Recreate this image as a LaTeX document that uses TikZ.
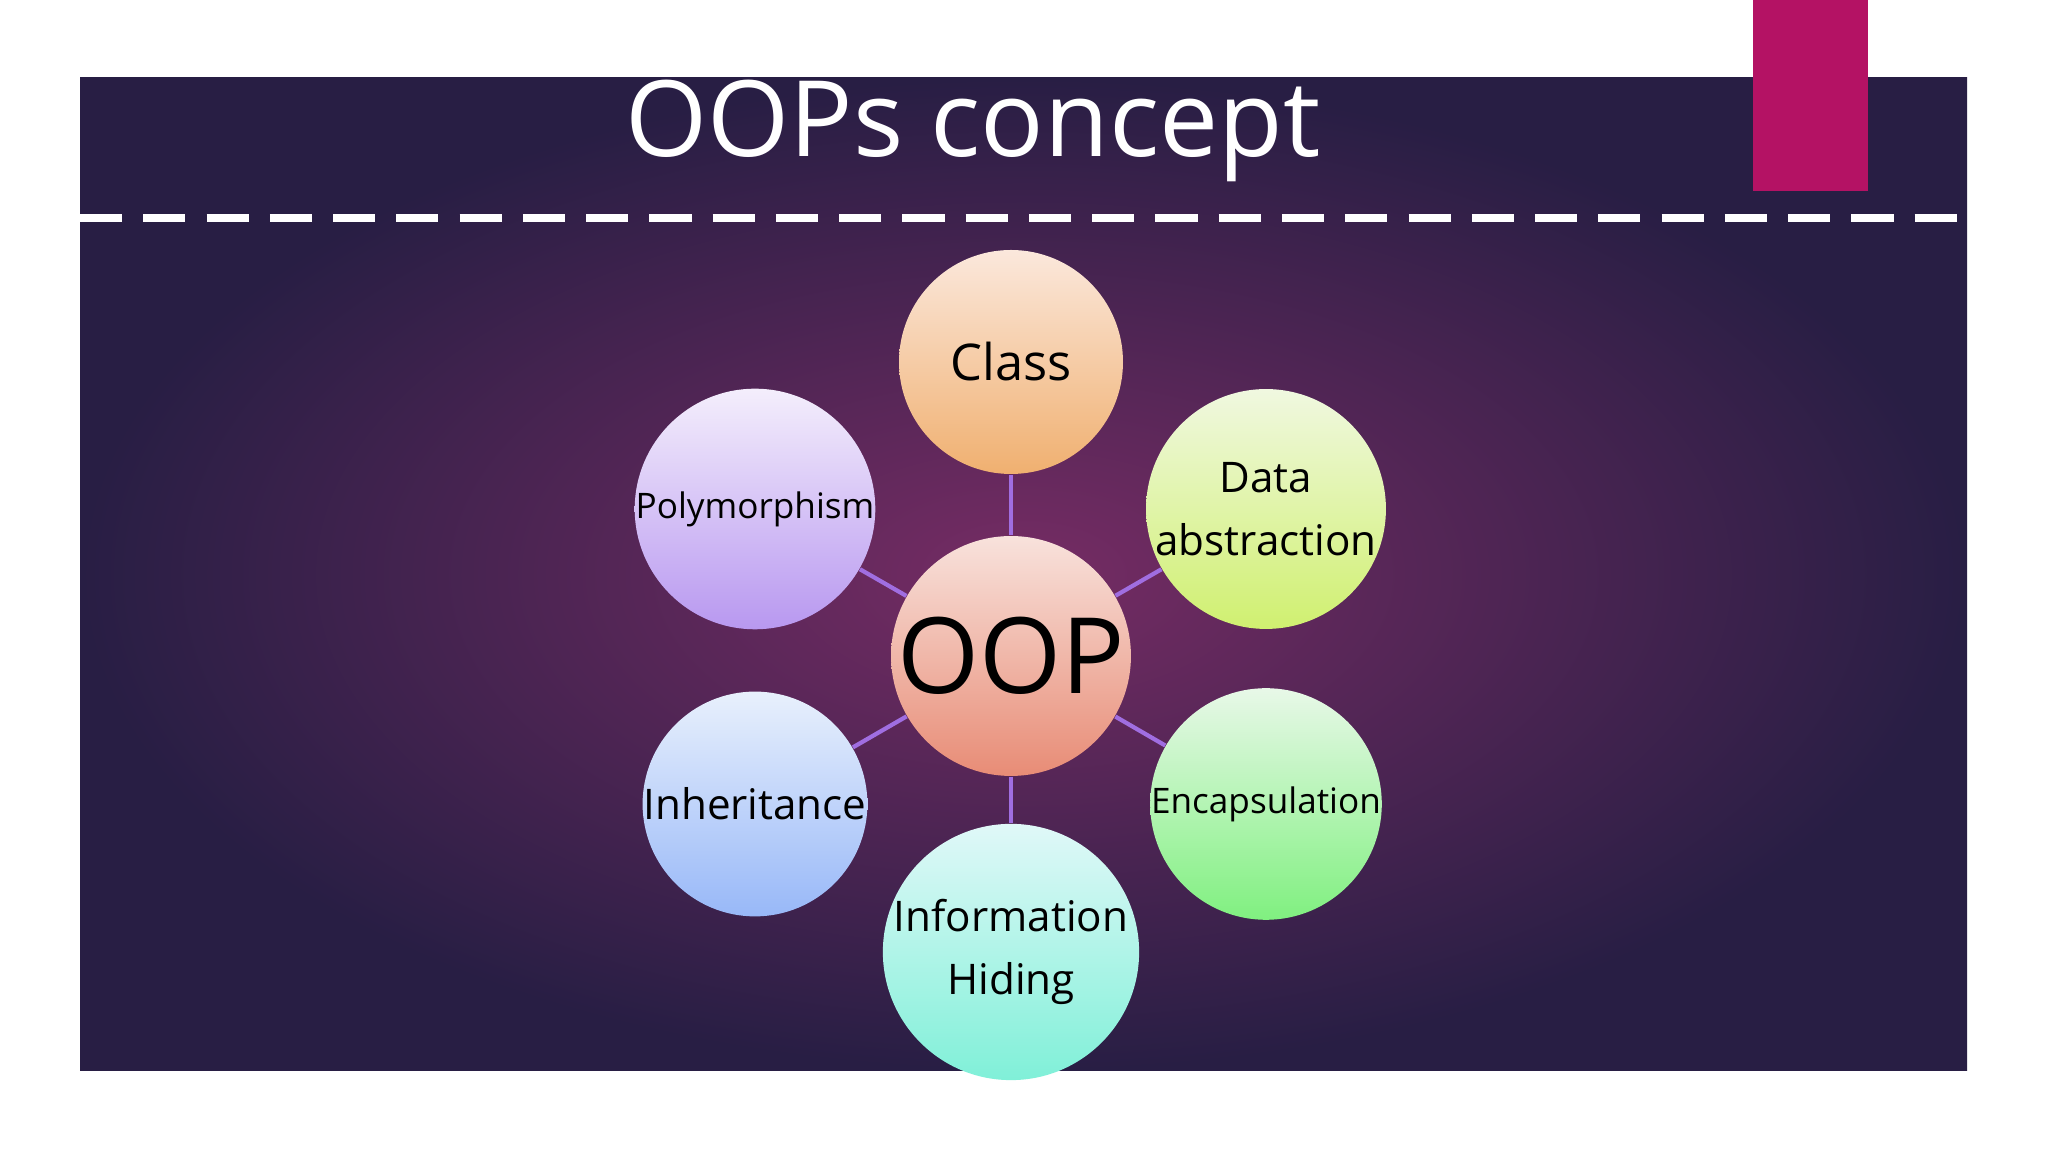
\documentclass[tikz,border=0pt]{standalone}
\usepackage{fontspec}
\setmainfont{Open Sans}
\usetikzlibrary{positioning}
\definecolor{bgInner}{RGB}{118, 44, 100}
\definecolor{bgOuter}{RGB}{40, 30, 68}
\definecolor{tabPink}{RGB}{180, 18, 100}
\definecolor{linkViolet}{RGB}{160, 110, 225}
\tikzset{
    bubble/.style={
        circle,
        minimum size=2.24cm,
        inner sep=0pt,
        align=center,
        font=\large
    },
    link/.style={
        draw=linkViolet,
        line width=1.2pt
    }
}

\begin{document}
\begin{tikzpicture}
    \useasboundingbox (0,0) rectangle (20.48,11.52);
    \fill[white] (0,0) rectangle (20.48,11.52);

    % Slide background
    \shade[inner color=bgInner, outer color=bgOuter] (0.80,0.81) rectangle (19.67,10.74);
    \fill[tabPink] (17.53,9.61) rectangle (18.68,11.52);
    \draw[white, line width=2.5pt, dash pattern=on 12pt off 6pt] (0.80,9.34) -- (19.67,9.34);
    \node[text=white, font=\fontsize{30}{36}\selectfont] (title) at (9.73,10.21) {OOPs concept};

    % Bubbles
    \node[bubble, top color={rgb,255:red,248;green,226;blue,220}, bottom color={rgb,255:red,232;green,140;blue,118}, font=\fontsize{30}{36}\selectfont] (oop) at (10.11,4.96) {OOP};
    \node[bubble, top color={rgb,255:red,251;green,232;blue,220}, bottom color={rgb,255:red,240;green,176;blue,112}, font=\Large] (class) at (10.11,7.90) {Class};
    \node[bubble, top color={rgb,255:red,240;green,248;blue,224}, bottom color={rgb,255:red,208;green,240;blue,112}] (data) at (12.66,6.43) {Data\\[4pt]abstraction};
    \node[bubble, top color={rgb,255:red,232;green,248;blue,232}, bottom color={rgb,255:red,128;green,240;blue,128}, font=\normalsize] (encap) at (12.66,3.48) {Encapsulation};
    \node[bubble, top color={rgb,255:red,224;green,248;blue,248}, bottom color={rgb,255:red,128;green,240;blue,216}] (info) at (10.11,2.00) {Information\\[4pt]Hiding};
    \node[bubble, top color={rgb,255:red,232;green,240;blue,252}, bottom color={rgb,255:red,152;green,184;blue,248}] (inher) at (7.55,3.48) {Inheritance};
    \node[bubble, top color={rgb,255:red,244;green,238;blue,252}, bottom color={rgb,255:red,184;green,152;blue,240}, font=\normalsize] (poly) at (7.55,6.43) {Polymorphism};

    % Links
    \foreach \n in {class, data, encap, info, inher, poly}
        \draw[link] (oop) -- (\n);
\end{tikzpicture}
\end{document}
